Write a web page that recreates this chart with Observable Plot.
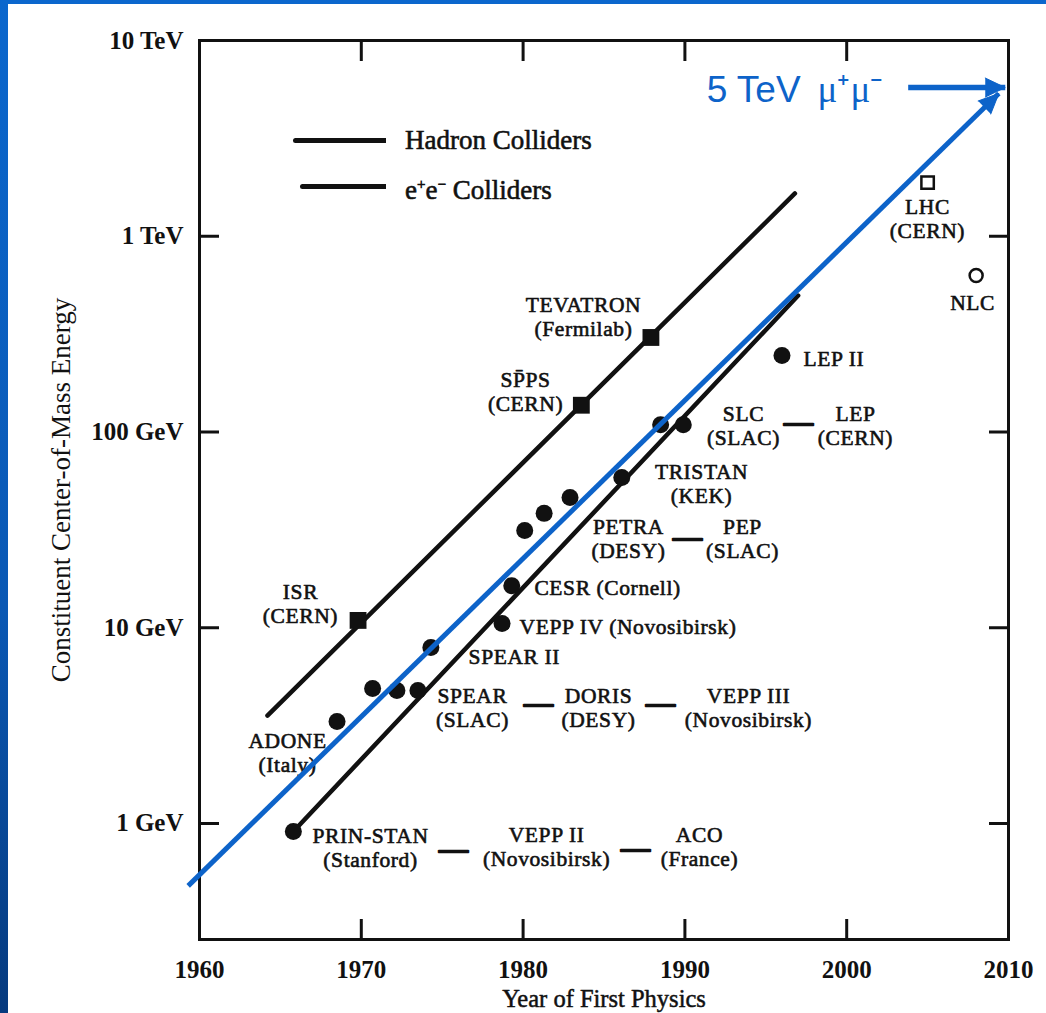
<!DOCTYPE html>
<html>
<head>
<meta charset="utf-8">
<script src="https://cdn.jsdelivr.net/npm/d3@7"></script>
<script src="https://cdn.jsdelivr.net/npm/@observablehq/plot@0.6"></script>
<style>
html, body { margin: 0; padding: 0; width: 1046px; height: 1013px; overflow: hidden;
  background: linear-gradient(180deg, #0b67cd 0%, #0a58b4 60%, #063a7e 100%); }
#chart { position: absolute; left: 8px; top: 4px; width: 1038px; height: 1009px; background: #fff; overflow: hidden; }
#chart svg { overflow: visible; }
.lbl text { letter-spacing: 0.6px; }
.legline { position: absolute; height: 5px; background: #111; border-radius: 3px 0 0 3px; }
.legtext { position: absolute; font-family: "Liberation Serif", serif; font-size: 27px; color: #111;
  -webkit-text-stroke: 0.6px #111; line-height: 27px; white-space: nowrap; }
</style>
</head>
<body>
<div id="chart"></div>
<div class="legline" style="left:293px; top:138px; width:93px;"></div>
<div class="legtext" style="left:405px; top:127px;">Hadron Colliders</div>
<div class="legline" style="left:300px; top:184px; width:86px;"></div>
<div class="legtext" style="left:405px; top:171px;">e<sup style="font-size:15px">+</sup>e<sup style="font-size:15px">−</sup> Colliders</div>
<script>
// ---- data (year of first physics, constituent CM energy in GeV) ----
const hadronNames = ["ISR", "SppS", "TEVATRON"];
const hadronYears = [1969.8, 1983.6, 1987.9];
const hadronEnergy = [10.9, 137, 304];

const eeYears  = [1965.8, 1968.5, 1970.7, 1972.2, 1973.5, 1974.3, 1978.7, 1979.3, 1980.1, 1981.3, 1982.9, 1986.1, 1988.5, 1989.9, 1996.0];
const eeEnergy = [0.91,   3.32,   4.89,   4.78,   4.78,   7.93,   10.5,   16.4,   31.4,   38.4,   46.3,   58.6,   109,    109,    246];

const lhcYear = [2005.0];  const lhcEnergy = [1880];
const nlcYear = [2008.0];  const nlcEnergy = [630];

const hadronTrendYears = [1964.2, 1996.8];
const hadronTrendEnergy = [3.56, 1654];
const eeTrendYears = [1965.8, 1997.0];
const eeTrendEnergy = [0.91, 498];

const muonYears = [1959.3, 2009.4];
const muonEnergy = [0.48, 5360];
const muonPointerYears = [2003.8, 2009.8];
const muonPointerEnergy = [5750, 5750];
const muonTexts = ["5 TeV", "μ⁺μ⁻"];
const muonTextYears = [1997.15, 1998.2];
const muonTextEnergy = [5560, 5560];

const labelTexts = [
  "TEVATRON\n(Fermilab)", "SP̄PS\n(CERN)", "ISR\n(CERN)", "ADONE\n(Italy)",
  "PRIN-STAN\n(Stanford)", "VEPP II\n(Novosibirsk)", "ACO\n(France)",
  "SPEAR\n(SLAC)", "DORIS\n(DESY)", "VEPP III\n(Novosibirsk)",
  "PETRA\n(DESY)", "PEP\n(SLAC)", "TRISTAN\n(KEK)",
  "SLC\n(SLAC)", "LEP\n(CERN)", "LHC\n(CERN)", "NLC"
];
const labelYears = [1983.73, 1980.15, 1966.24, 1965.44, 1970.57, 1981.45, 1990.90, 1976.87, 1984.66, 1993.93, 1986.51, 1993.56, 1991.03, 1993.62, 2000.54, 2004.99, 2007.78];
const labelEnergy = [389, 161, 13.3, 2.31, 0.754, 0.763, 0.763, 3.91, 3.91, 3.91, 28.6, 28.6, 54.6, 108, 108, 1232, 459];

const sideTexts = ["SPEAR II", "VEPP IV (Novosibirsk)", "CESR (Cornell)", "LEP II"];
const sideYears = [1976.63, 1979.78, 1980.70, 1997.33];
const sideEnergy = [7.05, 10.03, 15.9, 237];

const dashYears = [1975.70, 1986.95, 1980.95, 1988.49, 1990.16, 1997.02];
const dashEnergy = [0.737, 0.745, 4.10, 4.10, 28.9, 111.8];

const xTickValues = [1960, 1970, 1980, 1990, 2000, 2010];
const xInnerTicks = [1970, 1980, 1990, 2000];
const yTickValues = [1, 10, 100, 1000, 10000];
const yTickLabels = ["1 GeV", "10 GeV", "100 GeV", "1 TeV", "10 TeV"];
const yInnerTicks = [1, 10, 100, 1000];

// ---- build tables ----
const pts = (xs, ys) => xs.map((x, i) => ({year: x, e: ys[i]}));
const hadronPts = pts(hadronYears, hadronEnergy);
const eePts = pts(eeYears, eeEnergy);
const labels = labelTexts.map((t, i) => ({text: t, year: labelYears[i], e: labelEnergy[i]}));
const sides = sideTexts.map((t, i) => ({text: t, year: sideYears[i], e: sideEnergy[i]}));
const dashes = pts(dashYears, dashEnergy);
const muonLine = pts(muonYears, muonEnergy);
const pointer = pts(muonPointerYears, muonPointerEnergy);

const BLUE = "#0d63c9";
const common = {
  width: 1038, height: 1009,
  marginLeft: 191, marginRight: 38, marginTop: 36, marginBottom: 74,
  x: {domain: [1960, 2010], axis: null},
  y: {type: "log", domain: [0.2555, 10000], axis: null},
  style: {fontFamily: "Liberation Serif, serif", fontSize: "22px", color: "#111", background: "white"}
};

// probe scales to orient the diagonal arrowhead
const probe = Plot.plot({...common, marks: []});
const sx = probe.scale("x"), sy = probe.scale("y");
const ddx = sx.apply(muonYears[1]) - sx.apply(muonYears[0]);
const ddy = sy.apply(muonEnergy[1]) - sy.apply(muonEnergy[0]);
const diagAngle = Math.atan2(ddx, -ddy) * 180 / Math.PI;

const chart = Plot.plot({
  ...common,
  marks: [
    Plot.frame({stroke: "#111", strokeWidth: 3}),
    // inward ticks
    Plot.axisY(yInnerTicks, {anchor: "left", tickSize: -20, strokeWidth: 3, tickFormat: () => "", label: null}),
    Plot.axisY(yInnerTicks, {anchor: "right", tickSize: -20, strokeWidth: 3, tickFormat: () => "", label: null}),
    Plot.axisX(xInnerTicks, {anchor: "bottom", tickSize: -20, strokeWidth: 3, tickFormat: () => "", label: null}),
    Plot.axisX(xInnerTicks, {anchor: "top", tickSize: -20, strokeWidth: 3, tickFormat: () => "", label: null}),
    // tick labels
    Plot.axisY(yTickValues, {anchor: "left", tickSize: 0, tickPadding: 16, fontSize: 25, fontWeight: "bold",
      tickFormat: d => yTickLabels[yTickValues.indexOf(d)], label: null}),
    Plot.axisX(xTickValues, {anchor: "bottom", tickSize: 0, tickPadding: 21, fontSize: 25, fontWeight: "bold",
      tickFormat: d => String(d), label: null}),
    // axis titles
    Plot.text(["Constituent Center-of-Mass Energy"], {frameAnchor: "left", textAnchor: "middle", dx: -138, rotate: -90,
      fontSize: 27, fill: "#111"}),
    Plot.text(["Year of First Physics"], {frameAnchor: "bottom", textAnchor: "middle", lineAnchor: "top", dy: 50, fontSize: 24.5,
      fill: "#111", stroke: "#111", strokeWidth: 0.5}),
    // trend lines
    Plot.line(pts(hadronTrendYears, hadronTrendEnergy), {x: "year", y: "e", stroke: "#111", strokeWidth: 4.5, strokeLinecap: "round"}),
    Plot.line(pts(eeTrendYears, eeTrendEnergy), {x: "year", y: "e", stroke: "#111", strokeWidth: 4.5, strokeLinecap: "round"}),
    // points
    Plot.dot(eePts, {x: "year", y: "e", r: 8.5, fill: "#111"}),
    Plot.dot(hadronPts, {x: "year", y: "e", symbol: "square", r: 9.5, fill: "#111"}),
    Plot.dot(pts(lhcYear, lhcEnergy), {x: "year", y: "e", symbol: "square", r: 7, fill: "white", stroke: "#111", strokeWidth: 2.5}),
    Plot.dot(pts(nlcYear, nlcEnergy), {x: "year", y: "e", r: 6.5, fill: "white", stroke: "#111", strokeWidth: 2.5}),
    // labels
    Plot.text(labels, {x: "year", y: "e", text: "text", textAnchor: "middle", lineAnchor: "middle", lineHeight: 1.1,
      fontSize: 21.5, fill: "#111", stroke: "#111", strokeWidth: 0.6, className: "lbl"}),
    Plot.text(sides, {x: "year", y: "e", text: "text", textAnchor: "start", fontSize: 21.5, fill: "#111",
      stroke: "#111", strokeWidth: 0.6, className: "lbl"}),
    Plot.text(dashes, {x: "year", y: "e", text: () => "—", textAnchor: "middle", fontSize: 29, fill: "#111", stroke: "#111", strokeWidth: 2}),
    // muon collider annotation
    Plot.line(muonLine, {x: "year", y: "e", stroke: BLUE, strokeWidth: 5, strokeLinecap: "butt"}),
    Plot.vector([muonLine[1]], {x: "year", y: "e", rotate: diagAngle, length: 20, r: 9, anchor: "end", shape: "spike",
      fill: BLUE, stroke: BLUE, strokeWidth: 1}),
    Plot.line(pointer, {x: "year", y: "e", stroke: BLUE, strokeWidth: 5.5, strokeLinecap: "butt"}),
    Plot.vector([pointer[1]], {x: "year", y: "e", rotate: 90, length: 20, r: 9.5, anchor: "end", shape: "spike",
      fill: BLUE, stroke: BLUE, strokeWidth: 1}),
    Plot.text([muonTexts[0]], {x: () => muonTextYears[0], y: () => muonTextEnergy[0], textAnchor: "end",
      fontFamily: "Liberation Sans, Arial, sans-serif", fontSize: 37, fill: BLUE}),
    Plot.text([muonTexts[1]], {x: () => muonTextYears[1], y: () => muonTextEnergy[1], textAnchor: "start",
      fontFamily: "Liberation Serif, serif", fontSize: 37, fill: BLUE})
  ]
});
document.getElementById("chart").appendChild(chart);
</script>
</body>
</html>
